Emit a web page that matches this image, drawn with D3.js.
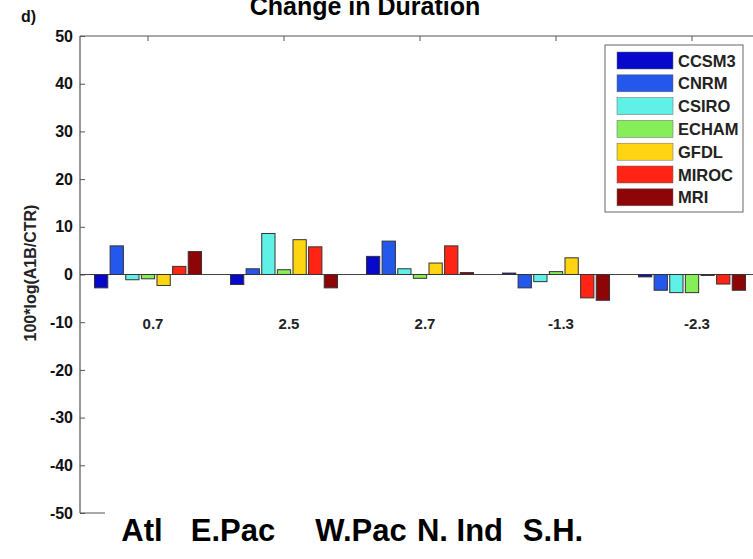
<!DOCTYPE html>
<html>
<head>
<meta charset="utf-8">
<script src="https://cdn.jsdelivr.net/npm/d3@7"></script>
<style>
body { margin: 0; background: #fff; }
text { font-family: "Liberation Sans", Arial, sans-serif; }
</style>
</head>
<body>
<script>
// basins and models
const basins = ['Atl', 'E.Pac', 'W.Pac', 'N. Ind', 'S.H.'];
const models = ['CCSM3', 'CNRM', 'CSIRO', 'ECHAM', 'GFDL', 'MIROC', 'MRI'];
const colors = ['#0808cc', '#2457ec', '#5ff0e6', '#86ee58', '#ffd512', '#ff2414', '#8e0508'];

// values per model, one per basin
const ccsm3 = [-2.8, -2.1, 3.8, 0.3, -0.5];
const cnrm  = [6.0, 1.2, 7.0, -2.8, -3.3];
const csiro = [-1.1, 8.6, 1.2, -1.5, -3.8];
const echam = [-0.9, 1.0, -0.8, 0.6, -3.8];
const gfdl  = [-2.3, 7.3, 2.4, 3.5, -0.2];
const miroc = [1.7, 5.8, 6.0, -4.9, -2.0];
const mri   = [4.8, -2.8, 0.4, -5.4, -3.3];
const series = [ccsm3, cnrm, csiro, echam, gfdl, miroc, mri];

// mean labels
const means = ['0.7', '2.5', '2.7', '-1.3', '-2.3'];
const yTicks = [-50, -40, -30, -20, -10, 0, 10, 20, 30, 40, 50];

const W = 753, H = 559;
const svg = d3.select('body').append('svg')
  .attr('width', W)
  .attr('height', H);

const x = d3.scaleLinear().domain([0.5, 5.5]).range([80, 760]);
const y = d3.scaleLinear().domain([-50, 50]).range([513, 36]);

const inner = d3.scaleBand().domain(models).paddingInner(0.15);
const half = (x(1.5) - x(1)) * 0.787;

// axes lines
svg.append('line').attr('x1', 80).attr('x2', W).attr('y1', y(50)).attr('y2', y(50))
  .attr('stroke', '#555').attr('stroke-width', 1.2);
svg.append('line').attr('x1', 80).attr('x2', 80).attr('y1', y(50)).attr('y2', y(-50))
  .attr('stroke', '#555').attr('stroke-width', 1.2);
svg.append('line').attr('x1', 80).attr('x2', W).attr('y1', y(-50)).attr('y2', y(-50))
  .attr('stroke', '#555').attr('stroke-width', 1.2);

// y axis
const yAxis = d3.axisLeft(y).tickValues(yTicks).tickSize(-5).tickPadding(7)
  .tickFormat(d => String(d));
const ga = svg.append('g').attr('transform', 'translate(80,0)').call(yAxis);
ga.select('.domain').remove();
ga.selectAll('line').attr('stroke', '#555');
ga.selectAll('text')
  .attr('font-size', 16).attr('font-weight', 'bold').attr('fill', '#111')
  .attr('font-family', '"Liberation Sans", Arial, sans-serif');

// top ticks
svg.selectAll('.ttick').data(basins).join('line')
  .attr('x1', (d, i) => x(i + 1)).attr('x2', (d, i) => x(i + 1))
  .attr('y1', y(50)).attr('y2', y(50) + 5)
  .attr('stroke', '#555');

// zero line
svg.append('line').attr('x1', 80).attr('x2', W).attr('y1', y(0)).attr('y2', y(0))
  .attr('stroke', '#444').attr('stroke-width', 1.2);

// bars
const g = svg.append('g');
basins.forEach((b, i) => {
  const cx = x(i + 1);
  inner.range([cx - half, cx + half]);
  g.selectAll(null).data(models).join('rect')
    .attr('x', m => inner(m))
    .attr('width', inner.bandwidth())
    .attr('y', (m, k) => y(Math.max(0, series[k][i])))
    .attr('height', (m, k) => Math.abs(y(series[k][i]) - y(0)))
    .attr('fill', (m, k) => colors[k])
    .attr('stroke', '#333')
    .attr('stroke-width', 1);
});

// mean values
svg.selectAll('.mean').data(means).join('text')
  .attr('x', (d, i) => x(i + 1) + 5)
  .attr('y', 329)
  .attr('text-anchor', 'middle')
  .attr('font-size', 15).attr('font-weight', 'bold').attr('fill', '#222')
  .text(d => d);

// legend
const lg = svg.append('g').attr('transform', 'translate(605,45)');
lg.append('rect').attr('width', 138).attr('height', 167)
  .attr('fill', '#fff').attr('stroke', '#666');
models.forEach((m, k) => {
  lg.append('rect').attr('x', 12).attr('y', 7 + k * 22.8)
    .attr('width', 56).attr('height', 17)
    .attr('fill', colors[k]).attr('stroke', '#666').attr('stroke-width', 0.5);
  lg.append('text').attr('x', 73).attr('y', 21.5 + k * 22.8)
    .attr('font-size', 16.5).attr('font-weight', 'bold').attr('fill', '#222')
    .text(m);
});

// title and labels
svg.append('text').attr('x', 365).attr('y', 15).attr('text-anchor', 'middle')
  .attr('font-size', 25).attr('font-weight', 'bold').text('Change in Duration');
svg.append('text').attr('x', 21).attr('y', 22)
  .attr('font-size', 16).attr('font-weight', 'bold').attr('fill', '#111').text('d)');
svg.append('text')
  .attr('transform', 'translate(36,273) rotate(-90)')
  .attr('text-anchor', 'middle')
  .attr('font-size', 16).attr('font-weight', 'bold').attr('fill', '#222')
  .text('100*log(A1B/CTR)');

// pasted category labels on white strip
svg.append('rect').attr('x', 105).attr('y', 511).attr('width', W - 105).attr('height', H - 511)
  .attr('fill', '#fff');
const catX = [142, 233, 361, 460, 553];
svg.selectAll('.cat').data(basins).join('text')
  .attr('x', (d, i) => catX[i])
  .attr('y', 541)
  .attr('text-anchor', 'middle')
  .attr('font-size', 31).attr('font-weight', 'bold').attr('fill', '#000')
  .text(d => d);
</script>
</body>
</html>
